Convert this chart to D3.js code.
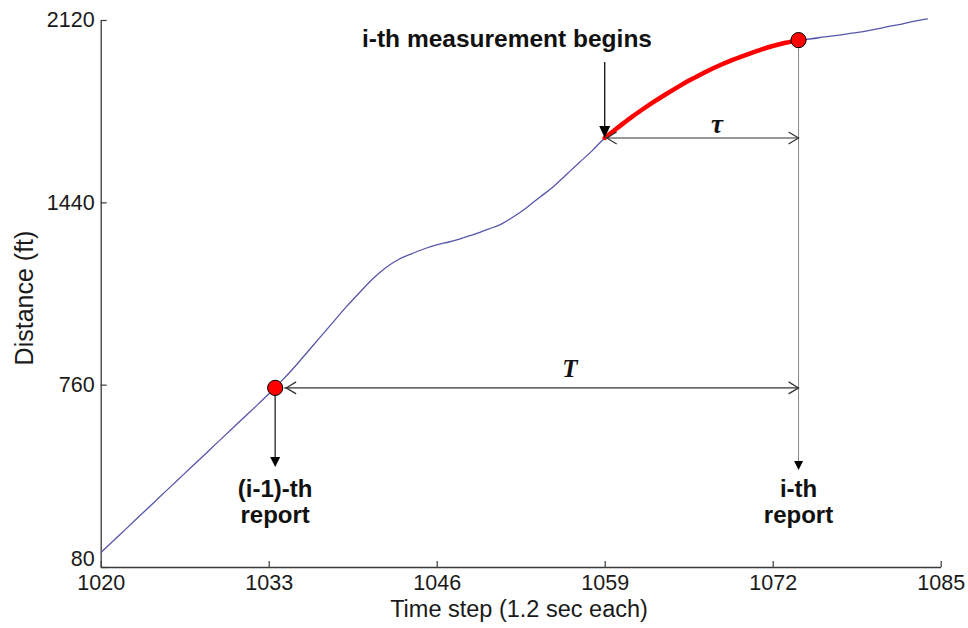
<!DOCTYPE html>
<html>
<head>
<meta charset="utf-8">
<script src="https://cdn.jsdelivr.net/npm/d3@7"></script>
<style>
  html, body { margin: 0; padding: 0; background: #fff; }
  svg { display: block; }
  text { font-family: "Liberation Sans", Arial, sans-serif; }
</style>
</head>
<body>
<svg id="chart" width="968" height="628"></svg>
<script>
// ---------------- data ----------------
const timeSteps = [1020,1021,1022,1023,1024,1025,1026,1027,1028,1029,1030,1031,1032,1033,1034,1035,1036,1037,1038,1039,
  1040,1041,1042,1043,1044,1045,1046,1047,1048,1049,1050,1051,1052,1053,1054,1055,1056,1057,1058,1059,
  1060,1061,1062,1063,1064,1065,1066,1067,1068,1069,1070,1071,1072,1073,1074,1075,1076,1077,1078,1079,
  1080,1081,1082,1083,1084];
const distance = [133,179,224,270,315,361,406,452,497,543,588,634,679,725,774,826,882,938,994,1050,
  1102,1152,1194,1226,1247,1266,1281,1293,1307,1322,1340,1359,1388,1422,1460,1497,1542,1587,1631,1680,
  1718,1755,1789,1821,1851,1880,1906,1931,1953,1973,1991,2008,2023,2035,2045,2050,2057,2063,2070,2077,
  2086,2096,2105,2116,2124];
const xTicks = [1020,1033,1046,1059,1072,1085];
const yTicks = [80,760,1440,2120];
const reportSteps = [1033.5, 1074];
const reportDistance = [748, 2045];
const measureStart = 1059;
const reportLabels = [["(i-1)-th","report"],["i-th","report"]];

// ---------------- layout ----------------
const svg = d3.select("#chart");
const x = d3.scaleLinear().domain([1020,1085]).range([100.7,940.7]);
const y = d3.scaleLinear().domain([80,2120]).range([567,20]);
const axisColor = "#3a3a3a";

svg.append("rect").attr("width",968).attr("height",628).attr("fill","#fff");

// axes
const gx = svg.append("g").attr("transform",`translate(0,${y(80)})`)
  .call(d3.axisBottom(x).tickValues(xTicks).tickFormat(d3.format("d")).tickSize(-6).tickSizeOuter(0).tickPadding(8));
const gy = svg.append("g").attr("transform",`translate(${x(1020)},0)`)
  .call(d3.axisLeft(y).tickValues(yTicks).tickFormat(d3.format("d")).tickSize(-6).tickSizeOuter(0).tickPadding(6));
[gx,gy].forEach(g=>{
  g.select(".domain").attr("stroke",axisColor).attr("stroke-width",1.3);
  g.selectAll(".tick line").attr("stroke",axisColor).attr("stroke-width",1.2);
  g.selectAll(".tick text").attr("fill","#1a1a1a").style("font-size","21.5px")
    .style("font-family","'Liberation Sans', Arial, sans-serif");
});
// lowest y label sits slightly above the corner
gy.selectAll(".tick text").filter(d=>d===80).attr("dy","-0.05em");

// axis titles
svg.append("text").attr("x",519).attr("y",617).attr("text-anchor","middle")
  .style("font-size","23.5px").attr("fill","#1a1a1a").text("Time step (1.2 sec each)");
svg.append("text").attr("transform","translate(33,298) rotate(-90)").attr("text-anchor","middle")
  .style("font-size","25px").attr("fill","#1a1a1a").text("Distance (ft)");

// data
const pts = timeSteps.map((t,i)=>({t, d: distance[i]}));
const line = d3.line().x(p=>x(p.t)).y(p=>y(p.d)).curve(d3.curveMonotoneX);
svg.append("path").datum(pts).attr("d",line).attr("fill","none")
  .attr("stroke","#5656ad").attr("stroke-width",1.3);

const redPts = pts.filter(p=>p.t>=measureStart && p.t<=reportSteps[1]);
svg.append("path").datum(redPts).attr("d",line).attr("fill","none")
  .attr("stroke","#ff0000").attr("stroke-width",4.5).attr("stroke-linecap","round");

// helpers
function filledHead(xTip, yTip, len, half){
  svg.append("path").attr("d",`M${xTip},${yTip} L${xTip-half},${yTip-len} L${xTip+half},${yTip-len} Z`).attr("fill","#000");
}
function chevron(xTip, yTip, dir){
  svg.append("path").attr("d",`M${xTip+dir*10},${yTip-6} L${xTip},${yTip} L${xTip+dir*10},${yTip+6}`)
    .attr("fill","none").attr("stroke","#333").attr("stroke-width",1.2);
}

const xm = x(measureStart), ym = y(distance[timeSteps.indexOf(measureStart)]);
const xr0 = x(reportSteps[0]), yr0 = y(reportDistance[0]);
const xr1 = x(reportSteps[1]), yr1 = y(reportDistance[1]);

// vertical thin gray line from i-th report down
svg.append("line").attr("x1",xr1).attr("x2",xr1).attr("y1",yr1).attr("y2",462)
  .attr("stroke","#8a8a8a").attr("stroke-width",1);
filledHead(xr1, 470, 9, 4.5);

// left report arrow
svg.append("line").attr("x1",xr0).attr("x2",xr0).attr("y1",yr0).attr("y2",458)
  .attr("stroke","#222").attr("stroke-width",1.3);
filledHead(xr0, 467, 10, 5);

// measurement begins arrow
svg.append("line").attr("x1",xm).attr("x2",xm).attr("y1",62).attr("y2",127)
  .attr("stroke","#111").attr("stroke-width",1.3);
filledHead(xm, ym, 12, 5.5);

// tau arrow
svg.append("line").attr("x1",xm+1).attr("x2",xr1).attr("y1",ym).attr("y2",ym)
  .attr("stroke","#333").attr("stroke-width",1.2);
chevron(xm+2, ym, 1); chevron(xr1, ym, -1);

// T arrow
svg.append("line").attr("x1",xr0+9).attr("x2",xr1).attr("y1",yr0).attr("y2",yr0)
  .attr("stroke","#333").attr("stroke-width",1.2);
chevron(xr0+11, yr0, 1); chevron(xr1, yr0, -1);

// report dots
svg.selectAll("circle.rep").data(reportSteps).enter().append("circle")
  .attr("cx",(d)=>x(d)).attr("cy",(d,i)=>y(reportDistance[i])).attr("r",7.6)
  .attr("fill","#ff0000").attr("stroke","#000").attr("stroke-width",1);

// annotation texts
svg.append("text").attr("x",507).attr("y",47).attr("text-anchor","middle")
  .style("font-size","24.5px").style("font-weight","bold").attr("fill","#111").text("i-th measurement begins");
svg.append("text").attr("x",717).attr("y",133).attr("text-anchor","middle")
  .style("font-family","'Liberation Serif','Times New Roman',serif").style("font-style","italic").style("font-weight","bold")
  .style("font-size","27px").attr("fill","#111").text("τ");
svg.append("text").attr("x",570).attr("y",377).attr("text-anchor","middle")
  .style("font-family","'Liberation Serif','Times New Roman',serif").style("font-style","italic").style("font-weight","bold")
  .style("font-size","25px").attr("fill","#111").text("T");

reportSteps.forEach((s,i)=>{
  const t = svg.append("text").attr("text-anchor","middle")
    .style("font-size","24px").style("font-weight","bold").attr("fill","#111");
  reportLabels[i].forEach((ln,j)=>{
    t.append("tspan").attr("x",x(s)).attr("y",497 + j*26).text(ln);
  });
});
</script>
</body>
</html>
